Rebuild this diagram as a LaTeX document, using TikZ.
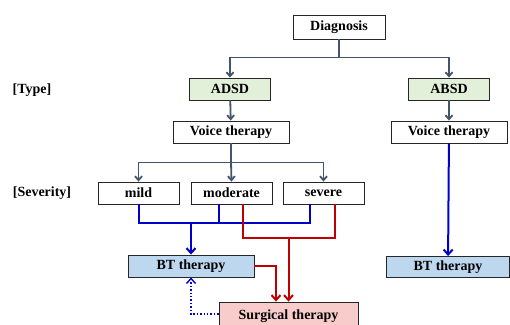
\documentclass[tikz,border=0pt]{standalone}
\usepackage{fontspec}
\setmainfont{Liberation Serif}
\usetikzlibrary{arrows.meta}

\definecolor{treegray}{HTML}{44546A}
\definecolor{typegreen}{HTML}{E2EFD9}
\definecolor{btblue}{HTML}{BDD7EE}
\definecolor{surgpink}{HTML}{F9CCCC}
\definecolor{lineblue}{HTML}{0000CC}
\definecolor{linered}{HTML}{C00000}

\begin{document}
\begin{tikzpicture}[x=1pt,y=-1pt,
    font=\fontsize{14}{16}\selectfont\bfseries,
    box/.style={draw=black!85,line width=0.9pt,inner sep=1pt,minimum height=22pt,minimum width=81pt},
    tree/.style={draw=treegray,line width=1.8pt,-{Straight Barb[length=4pt,width=7pt]}},
    bline/.style={draw=lineblue,line width=2pt},
    rline/.style={draw=linered,line width=2pt},
    tip/.style={-{Straight Barb[length=5pt,width=9pt]}}]
    \useasboundingbox (0,0) rectangle (510,324);

    \node[box,minimum width=92pt,minimum height=24pt] (diag) at (339,27) {Diagnosis};
    \node[box,fill=typegreen] (adsd) at (230,89) {ADSD};
    \node[box,fill=typegreen] (absd) at (449,89) {ABSD};
    \node[box,minimum width=116pt] (vt1) at (231,132) {Voice therapy};
    \node[box,minimum width=116pt] (vt2) at (449,132) {Voice therapy};
    \node[box] (mild) at (138.5,193) {mild};
    \node[box] (mod) at (231.5,193) {moderate};
    \node[box] (sev) at (323.5,193) {severe};
    \node[box,fill=btblue,minimum width=126pt] (bt1) at (191,266) {BT therapy};
    \node[box,fill=btblue,minimum width=123pt,minimum height=21pt] (bt2) at (448,267) {BT therapy};
    \node[box,fill=surgpink,minimum width=139pt,minimum height=28pt] (surg) at (288.5,316) {Surgical therapy};

    \node (type) at (32,90) {[Type]};
    \node (sevlab) at (42,193) {[Severity]};

    % type and voice therapy
    \draw[tree,-] (diag.south) -- ++(0,18) coordinate (dj);
    \draw[tree] (dj) -| (adsd.north);
    \draw[tree] (dj) -| (absd.north);
    \draw[tree] (adsd) -- (vt1);
    \draw[tree] (absd) -- (vt2);

    % severity
    \draw[tree,-] (vt1.south) -- ++(0,19) coordinate (vj);
    \draw[tree] (vj) -| (mild.north);
    \draw[tree] (vj) -- (mod.north);
    \draw[tree] (vj) -| (sev.north);

    % to BT therapy
    \draw[bline] (mild.south) |- ([xshift=-13.5pt,yshift=-19pt]sev.south) -- ([xshift=-13.5pt]sev.south);
    \draw[bline] ([xshift=-12.5pt]mod.south) -- ++(0,19);
    \draw[bline,tip] ([yshift=-19pt]mild.south) -| (bt1.north);
    \draw[bline,tip] (vt2) -- (bt2);

    % to surgical therapy
    \draw[rline] ([xshift=11.5pt]mod.south) |- ([xshift=11.5pt,yshift=-34pt]sev.south) -- ([xshift=11.5pt]sev.south);
    \draw[rline,tip] ([xshift=11.5pt,yshift=-34pt]mod.south) -| (surg.north);
    \draw[rline,tip] (bt1.east) -| ([xshift=-12.5pt]surg.north);
    \draw[lineblue,line width=1.4pt,dotted,tip] ([yshift=2pt]surg.west) -| (bt1.south);
\end{tikzpicture}
\end{document}
